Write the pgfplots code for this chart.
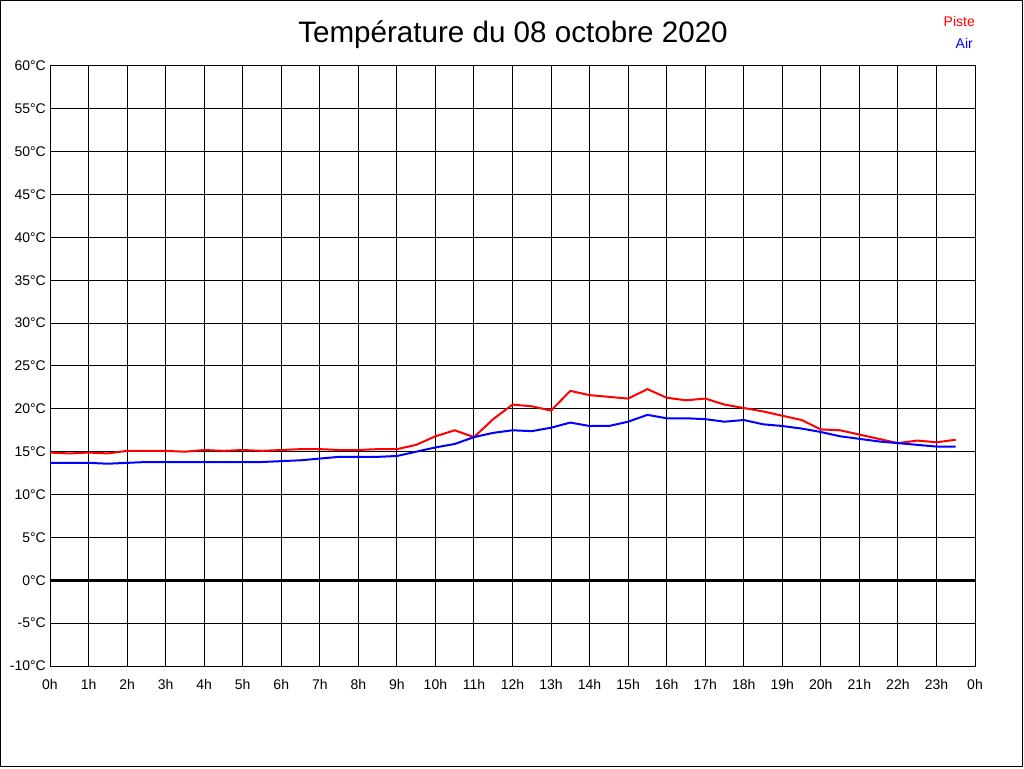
\documentclass[border=0pt]{standalone}
\usepackage{pgfplots}
\pgfplotsset{compat=1.18}
\usepackage{fontspec}
\setmainfont{Liberation Sans}
\begin{document}
\begin{tikzpicture}[x=1pt,y=1pt]
\useasboundingbox (0,0) rectangle (1024,768);
\fill[white] (0,0) rectangle (1024,768);
\draw[black, line width=1pt] (0.5,1.5) rectangle (1022.5,767.5);
\node[anchor=base, font=\fontsize{29.6}{33}\selectfont] at (513,725.3) {Température du 08 octobre 2020};
\node[anchor=east, inner sep=0pt, text=red, font=\fontsize{14}{16}\selectfont] at (975,746.5) {Piste};
\node[anchor=east, inner sep=0pt, text=blue, font=\fontsize{14}{16}\selectfont] at (973,725) {Air};
\begin{axis}[
  at={(50pt,102pt)}, anchor=south west,
  scale only axis, width=925pt, height=600pt,
  xmin=0, xmax=24, ymin=-10, ymax=60,
  xtick={0,1,...,24},
  xticklabels={0h,1h,2h,3h,4h,5h,6h,7h,8h,9h,10h,11h,12h,13h,14h,15h,16h,17h,18h,19h,20h,21h,22h,23h,0h},
  ytick={-10,-5,...,60},
  yticklabels={-10°C,-5°C,0°C,5°C,10°C,15°C,20°C,25°C,30°C,35°C,40°C,45°C,50°C,55°C,60°C},
  major tick length=0pt,
  grid=major,
  grid style={black, line width=1pt},
  axis line style={black, line width=1pt},
  tick label style={font=\fontsize{14}{16}\selectfont, inner sep=0pt},
  yticklabel style={anchor=east, xshift=-4pt},
  xticklabel style={anchor=north, yshift=-13pt},
  clip=true,
]
\addplot[black, line width=3pt] coordinates {(0,0) (24,0)};
\addplot[red, line width=2pt, line join=round] coordinates {
(0,14.9) (0.5,14.8) (1,14.9) (1.5,14.8) (2,15.1) (2.5,15.1) (3,15.1) (3.5,15.0)
(4,15.2) (4.5,15.1) (5,15.2) (5.5,15.1) (6,15.2) (6.5,15.3) (7,15.3) (7.5,15.2)
(8,15.2) (8.5,15.3) (9,15.3) (9.5,15.8) (10,16.8) (10.5,17.5) (11,16.7) (11.5,18.8)
(12,20.5) (12.5,20.3) (13,19.8) (13.5,22.1) (14,21.6) (14.5,21.4) (15,21.2) (15.5,22.3)
(16,21.3) (16.5,21.0) (17,21.2) (17.5,20.5) (18,20.1) (18.5,19.7) (19,19.2) (19.5,18.7)
(20,17.6) (20.5,17.5) (21,17.0) (21.5,16.5) (22,16.0) (22.5,16.3) (23,16.1) (23.5,16.4)
};
\addplot[blue, line width=2pt, line join=round] coordinates {
(0,13.7) (0.5,13.7) (1,13.7) (1.5,13.6) (2,13.7) (2.5,13.8) (3,13.8) (3.5,13.8)
(4,13.8) (4.5,13.8) (5,13.8) (5.5,13.8) (6,13.9) (6.5,14.0) (7,14.2) (7.5,14.4)
(8,14.4) (8.5,14.4) (9,14.5) (9.5,15.0) (10,15.5) (10.5,15.9) (11,16.7) (11.5,17.2)
(12,17.5) (12.5,17.4) (13,17.8) (13.5,18.4) (14,18.0) (14.5,18.0) (15,18.5) (15.5,19.3)
(16,18.9) (16.5,18.9) (17,18.8) (17.5,18.5) (18,18.7) (18.5,18.2) (19,18.0) (19.5,17.7)
(20,17.3) (20.5,16.8) (21,16.5) (21.5,16.2) (22,16.0) (22.5,15.8) (23,15.6) (23.5,15.6)
};
\end{axis}
\end{tikzpicture}
\end{document}
